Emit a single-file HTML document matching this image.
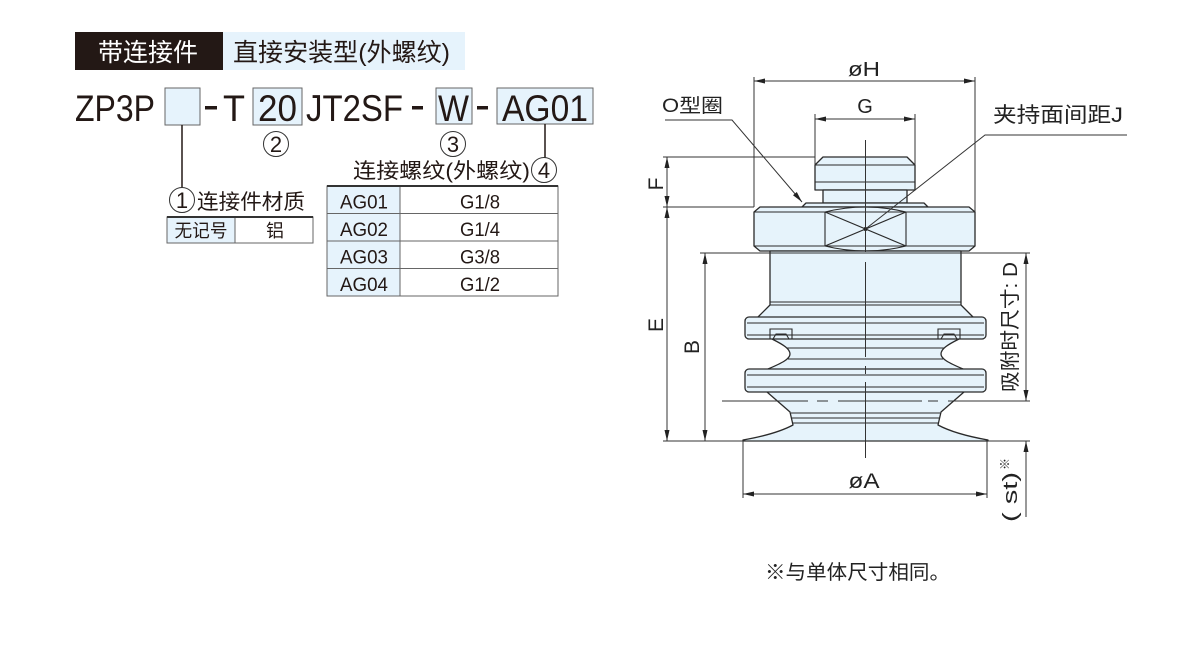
<!DOCTYPE html>
<html><head><meta charset="utf-8"><style>
html,body{margin:0;padding:0;background:#fff;}
svg{display:block;}
.l{font-family:"Liberation Sans","Noto Sans CJK SC",sans-serif;}
.c{font-family:"Liberation Sans","Noto Sans CJK SC",sans-serif;}
</style></head><body>
<svg width="1200" height="650" viewBox="0 0 1200 650" xmlns="http://www.w3.org/2000/svg">
<rect width="1200" height="650" fill="#fff"/>

<!-- Header -->
<rect x="75" y="32" width="148" height="38" fill="#231815"/>
<rect x="223" y="32" width="242" height="38" fill="#e6f3fc"/>
<text class="c" x="98" y="61" font-size="25" fill="#fff" textLength="100" lengthAdjust="spacingAndGlyphs">带连接件</text>
<text class="c" x="233" y="61" font-size="25" fill="#231815" textLength="217" lengthAdjust="spacingAndGlyphs">直接安装型(外螺纹)</text>

<!-- Model code line -->
<rect x="165" y="88" width="35" height="37" fill="#e6f3fc" stroke="#666" stroke-width="1"/>
<rect x="253" y="88" width="49" height="37" fill="#e6f3fc" stroke="#666" stroke-width="1"/>
<rect x="436" y="88" width="36" height="36" fill="#e6f3fc" stroke="#666" stroke-width="1"/>
<rect x="497" y="88" width="96" height="36" fill="#e6f3fc" stroke="#666" stroke-width="1"/>
<g class="l" font-size="37" fill="#231815">
<text x="75" y="121" textLength="80" lengthAdjust="spacingAndGlyphs">ZP3P</text>
<text x="223" y="121" textLength="22" lengthAdjust="spacingAndGlyphs">T</text>
<text x="258" y="121" textLength="39" lengthAdjust="spacingAndGlyphs">20</text>
<text x="306" y="121" textLength="97" lengthAdjust="spacingAndGlyphs">JT2SF</text>
<text x="438" y="121" textLength="31" lengthAdjust="spacingAndGlyphs">W</text>
<text x="502" y="121" textLength="86" lengthAdjust="spacingAndGlyphs">AG01</text>
</g>
<rect x="205" y="106" width="12" height="3.5" fill="#231815"/>
<rect x="412" y="106" width="11" height="3.5" fill="#231815"/>
<rect x="477" y="106" width="11" height="3.5" fill="#231815"/>

<!-- connectors -->
<line x1="182" y1="125" x2="182" y2="187.5" stroke="#231815" stroke-width="1.5"/>
<line x1="545" y1="124" x2="545" y2="157.5" stroke="#231815" stroke-width="1.5"/>

<!-- circled numbers -->
<g fill="#fff" stroke="#333" stroke-width="1">
<circle cx="182" cy="200" r="12.5"/>
<circle cx="276" cy="144" r="12.5"/>
<circle cx="453" cy="144" r="12.5"/>
<circle cx="544" cy="170" r="12.5"/>
</g>
<g class="l" font-size="22" fill="#231815" text-anchor="middle">
<text x="182" y="208">1</text>
<text x="276" y="152">2</text>
<text x="453" y="152">3</text>
<text x="544" y="178">4</text>
</g>

<text class="c" x="197" y="209" font-size="21" fill="#231815" textLength="108" lengthAdjust="spacingAndGlyphs">连接件材质</text>
<text class="c" x="353" y="178" font-size="21" fill="#231815" textLength="177" lengthAdjust="spacingAndGlyphs">连接螺纹(外螺纹)</text>

<!-- Table 1 -->
<rect x="167" y="217" width="68" height="26" fill="#e6f3fc"/>
<rect x="167" y="217" width="146" height="26" fill="none" stroke="#666" stroke-width="1"/>
<line x1="235" y1="217" x2="235" y2="243" stroke="#666" stroke-width="1"/>
<line x1="167" y1="217" x2="313" y2="217" stroke="#333" stroke-width="2"/>
<g class="c" font-size="18" fill="#231815" text-anchor="middle">
<text x="201" y="237" textLength="53" lengthAdjust="spacingAndGlyphs">无记号</text>
<text x="275" y="237">铝</text>
</g>

<!-- Table 2 -->
<rect x="327" y="186" width="73" height="110" fill="#e6f3fc"/>
<rect x="327" y="186" width="231" height="110" fill="none" stroke="#666" stroke-width="1"/>
<g stroke="#666" stroke-width="1">
<line x1="400" y1="186" x2="400" y2="296"/>
<line x1="327" y1="213.5" x2="558" y2="213.5"/>
<line x1="327" y1="241" x2="558" y2="241"/>
<line x1="327" y1="268.5" x2="558" y2="268.5"/>
</g>
<line x1="327" y1="186" x2="558" y2="186" stroke="#333" stroke-width="2"/>
<g class="l" font-size="19" fill="#231815" text-anchor="middle">
<text x="364" y="208.5" textLength="48" lengthAdjust="spacingAndGlyphs">AG01</text><text x="480" y="208.5" textLength="40" lengthAdjust="spacingAndGlyphs">G1/8</text>
<text x="364" y="236" textLength="48" lengthAdjust="spacingAndGlyphs">AG02</text><text x="480" y="236" textLength="40" lengthAdjust="spacingAndGlyphs">G1/4</text>
<text x="364" y="263.5" textLength="48" lengthAdjust="spacingAndGlyphs">AG03</text><text x="480" y="263.5" textLength="40" lengthAdjust="spacingAndGlyphs">G3/8</text>
<text x="364" y="291" textLength="48" lengthAdjust="spacingAndGlyphs">AG04</text><text x="480" y="291" textLength="40" lengthAdjust="spacingAndGlyphs">G1/2</text>
</g>

<!-- ========== Right drawing ========== -->
<g stroke="#2a2a2a" stroke-width="1.3" fill="#e6f3fb" stroke-linejoin="round">
<!-- thread -->
<path d="M815,165 L823,157 L907,157 L915,165 L915,190 L815,190 Z"/>
<rect x="823" y="190" width="84" height="13"/>
<!-- o-ring -->
<path d="M802,207 L806,203 L924,203 L928,207 Z"/>
<!-- hex -->
<path d="M754,212 L760,207 L969,207 L975,212 L975,246 L969,251 L760,251 L754,246 Z"/>
<!-- bellows outline -->
<path d="M770,251 L770,305 L758,317 L772,339 C784,345 790,349 790,354 C790,359 782,363 768,369 L767,392 L790,412 L793,425 C780,432 760,437 743,440 L743,441 L988,441 L988,440 C971,437 951,432 938,425 L941,412 L964,392 L963,369 C949,363 941,359 941,354 C941,349 947,345 959,339 L973,317 L961,305 L961,251 Z"/>
<rect x="745" y="317" width="241" height="22" rx="4"/>
<rect x="745" y="369" width="241" height="23" rx="4"/>
</g>
<g stroke="#2a2a2a" stroke-width="1.1" fill="none">
<line x1="815" y1="165" x2="915" y2="165"/>
<line x1="815" y1="182" x2="915" y2="182"/>
<line x1="754" y1="212" x2="975" y2="212"/>
<line x1="754" y1="246" x2="975" y2="246"/>
<line x1="825" y1="212" x2="825" y2="246"/>
<line x1="906" y1="212" x2="906" y2="246"/>
<path d="M825,212 Q865.5,202 906,212"/>
<path d="M825,246 Q865.5,256 906,246"/>
<line x1="825" y1="212" x2="906" y2="246"/>
<line x1="825" y1="246" x2="906" y2="212"/>
<line x1="770" y1="302" x2="961" y2="302"/>
<line x1="770" y1="305" x2="961" y2="305"/>
<line x1="747" y1="323" x2="984" y2="323"/>
<line x1="747" y1="335" x2="984" y2="335"/>
<line x1="787" y1="348" x2="944" y2="348"/>
<line x1="788" y1="359" x2="943" y2="359"/>
<line x1="747" y1="375" x2="984" y2="375"/>
<line x1="747" y1="387" x2="984" y2="387"/>
<line x1="791" y1="413" x2="940" y2="413"/>
<line x1="792" y1="418" x2="939" y2="418"/>
<line x1="793" y1="423" x2="938" y2="423"/>
<!-- notches -->
<path d="M770,339 L770,329 L792,329 L792,339"/>
<path d="M773,339 L776,334 L786,334 L789,339"/>
<path d="M938,339 L938,329 L960,329 L960,339"/>
<path d="M941,339 L944,334 L954,334 L957,339"/>
</g>
<circle cx="865.5" cy="229" r="2" fill="#222"/>

<!-- center line -->
<g stroke="#333" stroke-width="1">
<line x1="865.5" y1="140" x2="865.5" y2="252"/>
<line x1="865.5" y1="262" x2="865.5" y2="357"/>
<line x1="865.5" y1="366" x2="865.5" y2="374"/>
<line x1="865.5" y1="382" x2="865.5" y2="458"/>
</g>

<!-- extension lines -->
<g stroke="#333" stroke-width="1">
<line x1="754" y1="77" x2="754" y2="207"/>
<line x1="975" y1="77" x2="975" y2="212"/>
<line x1="815" y1="114" x2="815" y2="165"/>
<line x1="915" y1="114" x2="915" y2="165"/>
<line x1="663" y1="157" x2="815" y2="157"/>
<line x1="663" y1="207" x2="754" y2="207"/>
<line x1="700" y1="253" x2="1030" y2="253"/>
<line x1="663" y1="441" x2="1030" y2="441"/>
<line x1="743" y1="441" x2="743" y2="498"/>
<line x1="987" y1="441" x2="987" y2="498"/>
<!-- chain line -->
<line x1="722" y1="401" x2="808" y2="401"/>
<line x1="817" y1="401" x2="828" y2="401"/>
<line x1="838" y1="401" x2="922" y2="401"/>
<line x1="928" y1="401" x2="938" y2="401"/>
<line x1="948" y1="401" x2="1030" y2="401"/>
<!-- dimension lines -->
<line x1="754" y1="81" x2="975" y2="81"/>
<line x1="815" y1="119" x2="915" y2="119"/>
<line x1="667" y1="157" x2="667" y2="441"/>
<line x1="705" y1="253" x2="705" y2="441"/>
<line x1="1026" y1="253" x2="1026" y2="401"/>
<line x1="1026" y1="441" x2="1026" y2="517"/>
<line x1="743" y1="494" x2="987" y2="494"/>
<!-- leaders -->
<polyline points="665,120 732,120 802,202" fill="none"/>
<polyline points="1127,135 985,135 865.5,229" fill="none"/>
</g>

<!-- arrowheads -->
<g fill="#222">
<polygon points="754,81 765,78.5 765,83.5"/>
<polygon points="975,81 964,78.5 964,83.5"/>
<polygon points="815,119 826,116.5 826,121.5"/>
<polygon points="915,119 904,116.5 904,121.5"/>
<polygon points="667,157 664.5,168 669.5,168"/>
<polygon points="667,207 664.5,196 669.5,196"/>
<polygon points="667,207 664.5,218 669.5,218"/>
<polygon points="667,441 664.5,430 669.5,430"/>
<polygon points="705,253 702.5,264 707.5,264"/>
<polygon points="705,441 702.5,430 707.5,430"/>
<polygon points="1026,253 1023.5,264 1028.5,264"/>
<polygon points="1026,401 1023.5,390 1028.5,390"/>
<polygon points="1026,441 1023.5,452 1028.5,452"/>
<polygon points="743,494 754,491.5 754,496.5"/>
<polygon points="987,494 976,491.5 976,496.5"/>
<polygon points="802,202 793,195.2 796.8,192"/>
</g>

<!-- right labels -->
<g class="l" fill="#222">
<text x="864" y="76" font-size="20" text-anchor="middle" textLength="32" lengthAdjust="spacingAndGlyphs">øH</text>
<text x="865" y="113" font-size="20" text-anchor="middle">G</text>
<text x="864" y="488" font-size="21" text-anchor="middle" textLength="31" lengthAdjust="spacingAndGlyphs">øA</text>
<text transform="translate(663,184) rotate(-90)" font-size="21" text-anchor="middle">F</text>
<text transform="translate(663,325) rotate(-90)" font-size="21" text-anchor="middle">E</text>
<text transform="translate(699,347) rotate(-90)" font-size="21" text-anchor="middle">B</text>
</g>
<g class="c" fill="#222">
<text x="662" y="112" font-size="19" textLength="61" lengthAdjust="spacingAndGlyphs">O型圈</text>
<text x="993" y="122" font-size="21" textLength="130" lengthAdjust="spacingAndGlyphs">夹持面间距J</text>
<text transform="translate(1017,327) rotate(-90)" font-size="20" text-anchor="middle" textLength="130" lengthAdjust="spacingAndGlyphs">吸附时尺寸: D</text>
<text transform="translate(1017,497) rotate(-90)" font-size="20" text-anchor="middle" textLength="50" lengthAdjust="spacingAndGlyphs">( st)</text>
<text transform="translate(1009,464) rotate(-90)" font-size="12" text-anchor="middle">※</text>
<text x="765" y="579" font-size="20" textLength="185" lengthAdjust="spacingAndGlyphs">※与单体尺寸相同。</text>
</g>
</svg>
</body></html>
